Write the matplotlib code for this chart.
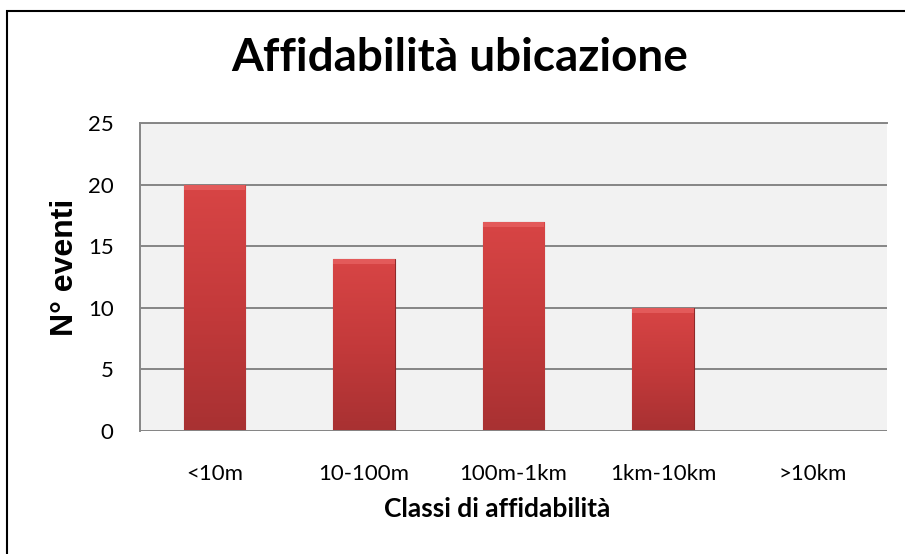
import matplotlib

matplotlib.use("Agg")
import matplotlib.pyplot as plt
import numpy as np
from matplotlib.patches import Rectangle

categories = ["<10m", "10-100m", "100m-1km", "1km-10km", ">10km"]
counts = [20, 14, 17, 10, 0]
y_ticks = [0, 5, 10, 15, 20, 25]

plt.rcParams["font.family"] = ["Lato", "DejaVu Sans"]

fig = plt.figure(figsize=(9.05, 5.54), dpi=100)
fig.patch.set_facecolor("white")
# outer chart border (only left and top edges fall inside the picture)
fig.add_artist(Rectangle((7 / 905, -0.1), 1.2, 1.1 - 11 / 554,
                         transform=fig.transFigure, fill=False,
                         edgecolor="black", linewidth=1.5))

ax = fig.add_axes([140 / 905, 1 - 431 / 554, 747 / 905, 308 / 554])
ax.set_facecolor("#F2F2F2")

x = np.arange(len(categories))
bars = ax.bar(x, counts, width=0.41, color="#C0393A", zorder=3,
              edgecolor="#8E2A2A", linewidth=0.8)

# vertical gradient and a light top bevel for each bar
grad = np.linspace(0, 1, 256).reshape(-1, 1)
cmap = matplotlib.colors.LinearSegmentedColormap.from_list(
    "barred", ["#A83132", "#C43A3B", "#D84545"])
for b in bars:
    if b.get_height() <= 0:
        continue
    x0, w, h = b.get_x(), b.get_width(), b.get_height()
    im = ax.imshow(grad, cmap=cmap, aspect="auto", origin="lower",
                   extent=(x0, x0 + w, 0, h), zorder=3.5)
    im.set_clip_path(b)
    ax.add_patch(Rectangle((x0, h - 0.45), w, 0.45, facecolor="#E35A5A",
                           edgecolor="none", zorder=3.6))

ax.set_xlim(-0.5, len(categories) - 0.5)
ax.set_ylim(0, 25)
ax.set_yticks(y_ticks)
ax.set_xticks(x)
ax.set_xticklabels(categories)
ax.yaxis.grid(True, color="#868686", linewidth=1.4, zorder=0)
ax.set_axisbelow(True)
ax.tick_params(axis="both", length=0, labelsize=16)
ax.tick_params(axis="y", pad=19)
ax.tick_params(axis="x", pad=24)

for side in ["right", "bottom"]:
    ax.spines[side].set_visible(False)
for side in ["left", "top"]:
    ax.spines[side].set_color("#868686")
    ax.spines[side].set_linewidth(1.4)
ax.axhline(0, color="#868686", linewidth=1.4, zorder=4)

fig.text(460 / 905, 1 - 58 / 554, "Affidabilità ubicazione", fontsize=33,
         fontweight="bold", ha="center", va="center")
ax.set_xlabel("Classi di affidabilità", fontsize=19, fontweight="bold")
ax.xaxis.set_label_coords(0.478, -0.213)
ax.set_ylabel("N° eventi", fontsize=23, fontweight="bold",
              family=["Liberation Sans", "DejaVu Sans"])
ax.yaxis.set_label_coords(-0.080, 0.53)

fig.savefig("out.png", dpi=100)
